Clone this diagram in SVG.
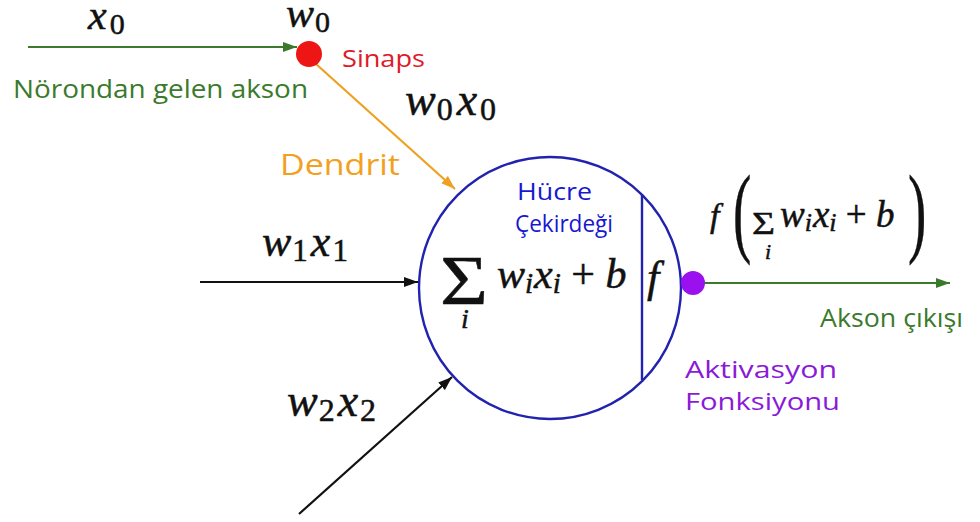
<svg xmlns="http://www.w3.org/2000/svg" width="980" height="522" viewBox="0 0 980 522">
<defs>
<style>
.m{font-family:"Liberation Serif","Times New Roman",serif;font-style:italic;fill:#111;stroke:#111;stroke-width:0.5}
.up{font-style:normal}
.lbl{font-family:"Open Sans","Noto Sans",sans-serif}
.green{fill:#3b7a2c}
.ln{fill:none;stroke-width:2.2}
</style>
<marker id="ag" viewBox="0 0 14 10" refX="14" refY="5" markerWidth="14" markerHeight="10" markerUnits="userSpaceOnUse" orient="auto"><path d="M0,0 L14,5 L0,10 Z" fill="#3b7a2c"/></marker>
<marker id="ao" viewBox="0 0 14 10" refX="14" refY="5" markerWidth="14" markerHeight="10" markerUnits="userSpaceOnUse" orient="auto"><path d="M0,0 L14,5 L0,10 Z" fill="#f0a020"/></marker>
<marker id="ak" viewBox="0 0 14 10" refX="14" refY="5" markerWidth="14" markerHeight="10" markerUnits="userSpaceOnUse" orient="auto"><path d="M0,0 L14,5 L0,10 Z" fill="#111"/></marker>
</defs>
<rect width="980" height="522" fill="#fff"/>

<g id="connectors">
<line class="ln" x1="28" y1="47" x2="297" y2="47" stroke="#3b7a2c" marker-end="url(#ag)"/>
<line class="ln" x1="316" y1="64" x2="455" y2="189" stroke="#f0a020" marker-end="url(#ao)"/>
<line class="ln" x1="200" y1="282" x2="418" y2="282" stroke="#111" marker-end="url(#ak)"/>
<line class="ln" x1="299" y1="514" x2="452" y2="377" stroke="#111" marker-end="url(#ak)"/>
<line class="ln" x1="705" y1="283" x2="950" y2="283" stroke="#3b7a2c" marker-end="url(#ag)"/>
</g>

<g id="input-x0">
<text class="m" x="88" y="29" font-size="42">x<tspan class="up" font-size="30" dx="3" dy="5">0</tspan></text>
<text class="lbl green" x="13" y="98" font-size="25" textLength="295" lengthAdjust="spacingAndGlyphs">Nörondan gelen akson</text>
</g>

<g id="synapse">
<circle cx="309" cy="54" r="13" fill="#ee1515"/>
<text class="m" x="286" y="27" font-size="42">w<tspan class="up" font-size="30" dx="1" dy="5">0</tspan></text>
<text class="lbl" x="342" y="67" font-size="24" fill="#e01a28" textLength="83" lengthAdjust="spacingAndGlyphs">Sinaps</text>
</g>

<g id="dendrite">
<text class="m" x="405" y="115" font-size="46">w<tspan class="up" font-size="32" dx="1" dy="5">0</tspan><tspan dx="4" dy="-5">x</tspan><tspan class="up" font-size="32" dx="3" dy="5">0</tspan></text>
<text class="lbl" x="280" y="175" font-size="30" fill="#f2a020" textLength="120" lengthAdjust="spacingAndGlyphs">Dendrit</text>
</g>

<g id="input-x1">
<text class="m" x="262" y="256" font-size="44">w<tspan class="up" font-size="31" dx="1" dy="5">1</tspan><tspan dx="3" dy="-5">x</tspan><tspan class="up" font-size="31" dx="2" dy="5">1</tspan></text>
</g>

<g id="input-x2">
<text class="m" x="287" y="416" font-size="46">w<tspan class="up" font-size="32" dx="1" dy="5">2</tspan><tspan dx="3" dy="-5">x</tspan><tspan class="up" font-size="32" dx="2" dy="5">2</tspan></text>
</g>

<g id="cell">
<circle cx="550" cy="288" r="131" fill="none" stroke="#2222b0" stroke-width="2.4"/>
<line x1="642" y1="195" x2="642" y2="380" stroke="#2222b0" stroke-width="2.4"/>
<text class="lbl" x="517" y="200" font-size="24" fill="#1818d0" textLength="75" lengthAdjust="spacingAndGlyphs">Hücre</text>
<text class="lbl" x="515" y="232" font-size="24" fill="#1818d0" textLength="98" lengthAdjust="spacingAndGlyphs">Çekirdeği</text>
<text class="m up" x="440" y="304" font-size="70" textLength="48" lengthAdjust="spacingAndGlyphs" stroke-width="0">Σ</text>
<text class="m" x="461" y="328" font-size="28">i</text>
<text class="m" x="497" y="288" font-size="42">w<tspan font-size="29" dy="5">i</tspan><tspan dx="1" dy="-5">x</tspan><tspan font-size="29" dy="5">i</tspan><tspan class="up" dy="-5"> + </tspan>b</text>
<text class="m" x="647" y="292" font-size="44">f</text>
</g>

<g id="activation">
<circle cx="693" cy="283" r="12" fill="#9a10ee"/>
<text class="lbl" x="685" y="378" font-size="24" fill="#8a1ad8" textLength="152" lengthAdjust="spacingAndGlyphs">Aktivasyon</text>
<text class="lbl" x="685" y="410" font-size="24" fill="#8a1ad8" textLength="155" lengthAdjust="spacingAndGlyphs">Fonksiyonu</text>
</g>

<g id="output">
<text class="m" x="710" y="227" font-size="34">f</text>
<text class="m up" x="0" y="0" font-size="100" stroke-width="0" transform="translate(733,244) scale(0.55,1)">(</text>
<text class="m up" x="752" y="234" font-size="32" textLength="23" lengthAdjust="spacingAndGlyphs" stroke-width="0">Σ</text>
<text class="m" x="765" y="259" font-size="22">i</text>
<text class="m" x="780" y="227" font-size="37">w<tspan font-size="26" dy="4">i</tspan><tspan dx="1" dy="-4">x</tspan><tspan font-size="26" dy="4">i</tspan><tspan class="up" dy="-4"> + </tspan>b</text>
<text class="m up" x="0" y="0" font-size="100" stroke-width="0" transform="translate(908,244) scale(0.55,1)">)</text>
<text class="lbl green" x="820" y="327" font-size="25" textLength="143" lengthAdjust="spacingAndGlyphs">Akson çıkışı</text>
</g>
</svg>
